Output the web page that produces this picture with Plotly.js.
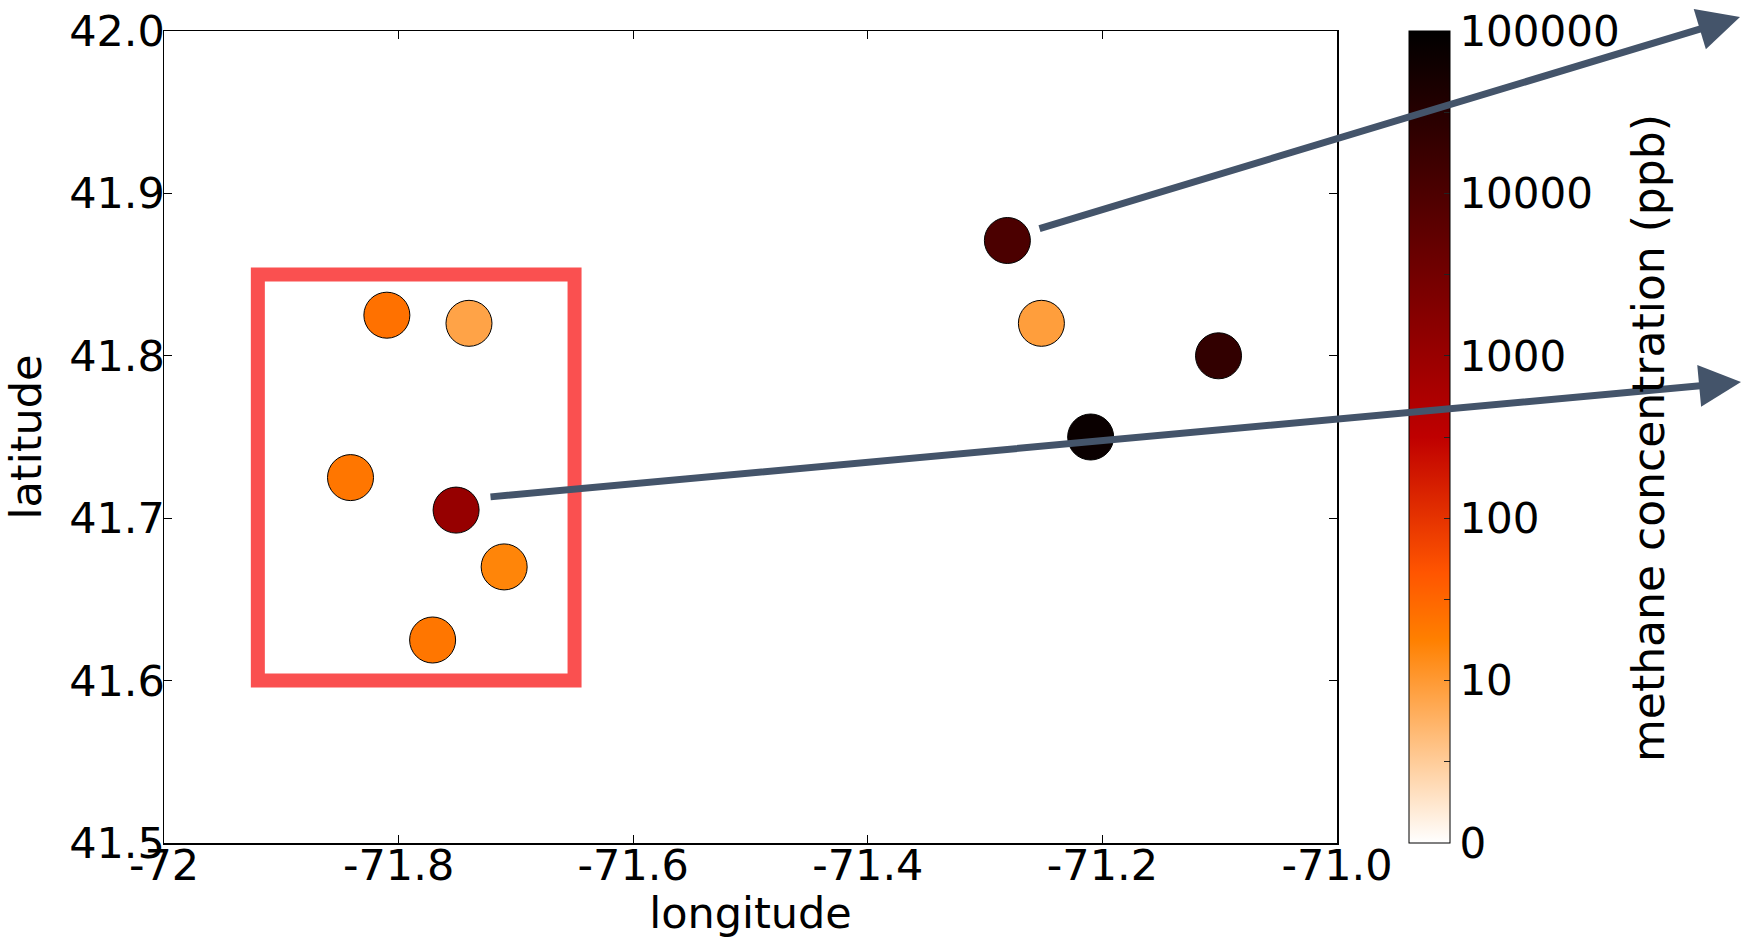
<!DOCTYPE html>
<html>
<head>
<meta charset="utf-8">
<script src="https://cdn.plot.ly/plotly-3.0.1.min.js"></script>
<style>
  html, body { margin: 0; padding: 0; background: #fff; }
  #chart { width: 1742px; height: 938px; }
</style>
</head>
<body>
<div id="chart"></div>
<script>
// ---- data ----
const longitude = [-71.281, -71.252, -71.101, -71.210, -71.810, -71.740, -71.841, -71.751, -71.710, -71.771];
const latitude  = [41.871, 41.820, 41.800, 41.750, 41.825, 41.820, 41.725, 41.705, 41.670, 41.625];
const methanePpb = [10500, 9, 22000, 74000, 25, 8, 22, 1100, 16, 22];

const xTickVals = [-72, -71.8, -71.6, -71.4, -71.2, -71.0];
const xTickText = ['-72', '-71.8', '-71.6', '-71.4', '-71.2', '-71.0'];
const yTickVals = [41.5, 41.6, 41.7, 41.8, 41.9, 42.0];
const yTickText = ['41.5', '41.6', '41.7', '41.8', '41.9', '42.0'];
const cbTickVals = [0, 0.5, 1, 1.5, 2, 2.5, 3, 3.5, 4, 4.5, 5];
const cbTickText = ['0', '', '10', '', '100', '', '1000', '', '10000', '', '100000'];
const cbTitle = 'methane concentration (ppb)';

// highlighted region (red box) in lon/lat
const boxLon = [-71.92, -71.65];
const boxLat = [41.60, 41.85];

// ---- style ----
const FONT = 'DejaVu Sans, sans-serif';
const W = 1742, H = 938;
const M = { l: 164, r: 405, t: 31, b: 95 };
const PW = W - M.l - M.r, PH = H - M.t - M.b;
const ARROW = '#44546a';

// gist_heat reversed colormap (piecewise-linear stops)
const heatR = [
  [0, 'rgb(255,255,255)'],
  [0.25, 'rgb(255,128,0)'],
  [1/3, 'rgb(255,85,0)'],
  [0.5, 'rgb(191,0,0)'],
  [1, 'rgb(0,0,0)']
];

const logC = methanePpb.map(v => Math.log10(v));

const trace = {
  type: 'scatter',
  mode: 'markers',
  x: longitude,
  y: latitude,
  marker: {
    size: 46,
    color: logC,
    cmin: 0, cmax: 5,
    colorscale: heatR,
    line: { color: '#000', width: 1 },
    colorbar: {
      x: (1409 - M.l) / PW, xanchor: 'left', xpad: 0,
      y: 0.5, yanchor: 'middle', ypad: 0,
      len: 1, lenmode: 'fraction',
      thickness: 41,
      outlinewidth: 1, outlinecolor: '#000',
      tickmode: 'array', tickvals: cbTickVals, ticktext: cbTickText,
      ticks: 'inside', ticklen: 6, tickcolor: '#222', tickwidth: 1,
      tickfont: { family: FONT, size: 42, color: '#000' },
      title: { text: '' }
    }
  },
  hoverinfo: 'x+y'
};

function pxToPaperX(px) { return (px - M.l) / PW; }
function pxToPaperY(py) { return (M.t + PH - py) / PH; }

// arrows: tip in pixel -> paper coords, tail offset in pixels
const arrowDefs = [
  { tip: [1740, 17], tail: [1038, 229] },
  { tip: [1741, 382], tail: [489, 497] }
];
const annotations = arrowDefs.map(a => ({
  xref: 'paper', yref: 'paper',
  x: pxToPaperX(a.tip[0]), y: pxToPaperY(a.tip[1]),
  axref: 'pixel', ayref: 'pixel',
  ax: a.tail[0] - a.tip[0], ay: a.tail[1] - a.tip[1],
  text: '', showarrow: true,
  arrowhead: 2, arrowsize: 1.2, arrowwidth: 7, arrowcolor: ARROW,
  standoff: 0, startstandoff: 0
}));

// colorbar title as rotated text
annotations.push({
  xref: 'paper', yref: 'paper',
  x: pxToPaperX(1648), y: pxToPaperY(438),
  xanchor: 'center', yanchor: 'middle',
  text: cbTitle, textangle: -90, showarrow: false,
  font: { family: FONT, size: 44, color: '#000' }
});

const axisCommon = {
  showgrid: false, zeroline: false,
  showline: true, linecolor: '#000', linewidth: 1.5, mirror: 'ticks',
  ticks: 'inside', ticklen: 8, tickcolor: '#000', tickwidth: 1,
  tickfont: { family: FONT, size: 43, color: '#000' },
  tickmode: 'array'
};

const layout = {
  width: W, height: H,
  margin: M,
  paper_bgcolor: '#fff', plot_bgcolor: '#fff',
  showlegend: false,
  xaxis: Object.assign({}, axisCommon, {
    range: [-72, -71], tickvals: xTickVals, ticktext: xTickText,
    ticklabelstandoff: -16,
    title: { text: 'longitude', standoff: 27, font: { family: FONT, size: 43, color: '#000' } }
  }),
  yaxis: Object.assign({}, axisCommon, {
    range: [41.5, 42.0], tickvals: yTickVals, ticktext: yTickText,
    ticklabelstandoff: -11,
    title: { text: 'latitude', standoff: 14, font: { family: FONT, size: 43, color: '#000' } }
  }),
  shapes: [{
    type: 'rect', xref: 'x', yref: 'y',
    x0: boxLon[0], x1: boxLon[1], y0: boxLat[0], y1: boxLat[1],
    line: { color: '#fa5050', width: 14 }, fillcolor: 'rgba(0,0,0,0)', layer: 'above'
  }],
  annotations: annotations
};

Plotly.newPlot('chart', [trace], layout, { displayModeBar: false, staticPlot: true });
</script>
</body>
</html>
